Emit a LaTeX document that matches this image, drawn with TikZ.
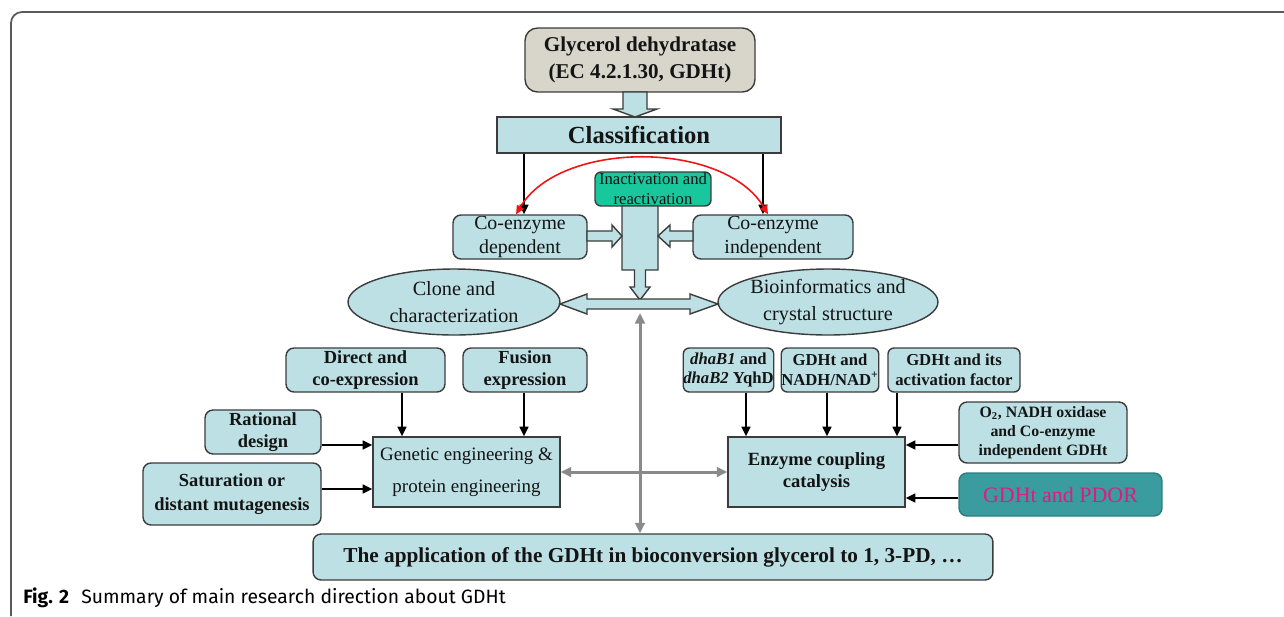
\documentclass[tikz,border=0pt]{standalone}
\usepackage{fontspec}
\setmainfont{Liberation Serif}
\newfontfamily\capfont{Fira Sans}
\usetikzlibrary{arrows.meta,calc,shapes.geometric}
\definecolor{lb}{HTML}{BCE0E4}
\definecolor{bdr}{HTML}{3C3C3C}
\definecolor{glycfill}{HTML}{D8D6CB}
\definecolor{greenbox}{HTML}{19C79C}
\definecolor{tealbox}{HTML}{3A9C9E}
\definecolor{magtext}{HTML}{E01A82}
\definecolor{redarc}{HTML}{F01414}
\definecolor{grayarr}{HTML}{8A8A8A}
\definecolor{framecol}{HTML}{5A5A5A}
\definecolor{txt}{HTML}{141414}
\newcommand\setfs[2]{\fontsize{#1}{#2}\selectfont}
\tikzset{
  box/.style={draw=bdr, fill=lb, line width=0.8pt, rounded corners=0.16cm, inner sep=0pt, align=center, text=txt},
  sqbox/.style={box, rounded corners=0pt},
  ell/.style={ellipse, draw=bdr, fill=lb, line width=0.8pt, inner sep=0pt, align=center, text=txt},
  blockarr/.style={draw=bdr, fill=lb, line width=0.8pt, line join=miter},
  blk/.style={draw=black, line width=1.2pt, -{Triangle[length=5.5pt,width=5pt]}},
  gry/.style={draw=grayarr, line width=1.7pt, {Triangle[length=6pt,width=5.5pt]}-{Triangle[length=6pt,width=5.5pt]}},
  rarc/.style={draw=redarc, line width=0.9pt, {Triangle[length=5pt,width=4.5pt]}-{Triangle[length=5pt,width=4.5pt]}},
}
\begin{document}
\begin{tikzpicture}[x=0.02cm,y=-0.02cm]
\useasboundingbox (0,0) rectangle (1284,616);
% frame
\draw[framecol, line width=1pt, rounded corners=0.22cm] (11,616) -- (11,12) -- (1284,12);

% nodes
\node[box, fill=glycfill, rounded corners=0.25cm, minimum width=4.6cm, minimum height=1.28cm, font=\bfseries\setfs{12}{15}] (glyc) at (640,60) {Glycerol dehydratase\\(EC 4.2.1.30, GDHt)};
\node[sqbox, minimum width=5.68cm, minimum height=0.72cm, font=\bfseries\setfs{14}{16}] (class) at (639,135) {Classification};
\node[box, fill=greenbox, rounded corners=0.12cm, minimum width=2.32cm, minimum height=0.68cm, font=\setfs{9.5}{11.5}] (inact) at (653,189) {Inactivation and\\reactivation};
\node[box, minimum width=2.68cm, minimum height=0.88cm, font=\setfs{11.3}{13.6}] (dep) at (520,237) {Co-enzyme\\dependent};
\node[box, minimum width=3.2cm, minimum height=0.88cm, font=\setfs{11.3}{13.6}] (indep) at (773,237) {Co-enzyme\\independent};
\node[ell, minimum width=4.24cm, minimum height=1.32cm, font=\setfs{11.5}{15}] (clone) at (454,302) {Clone and\\characterization};
\node[ell, minimum width=4.4cm, minimum height=1.32cm, font=\setfs{11.5}{15}] (bio) at (828,302) {Bioinformatics and\\crystal structure};

\node[box, minimum width=3.18cm, minimum height=0.88cm, font=\bfseries\setfs{10.5}{12.3}] (direct) at (365.5,370) {Direct and\\co-expression};
\node[box, minimum width=2.48cm, minimum height=0.88cm, font=\bfseries\setfs{10.5}{12.3}] (fusion) at (525,370) {Fusion\\expression};
\node[box, minimum width=2.32cm, minimum height=0.88cm, font=\bfseries\setfs{10.5}{12.3}] (rational) at (263,432) {Rational\\design};
\node[box, minimum width=3.56cm, minimum height=1.24cm, font=\bfseries\setfs{10.5}{13.5}] (satur) at (232,494) {Saturation or\\distant mutagenesis};
\node[sqbox, minimum width=3.74cm, minimum height=1.4cm, font=\setfs{10.8}{18.5}] (genetic) at (466.5,472) {Genetic engineering \&\\protein engineering};

\node[box, rounded corners=0.12cm, minimum width=1.74cm, minimum height=0.88cm, font=\bfseries\setfs{9.5}{11.3}] (dhab) at (728.5,370) {\textit{dhaB1} and\\\textit{dhaB2} YqhD};
\node[box, rounded corners=0.12cm, minimum width=1.92cm, minimum height=0.88cm, font=\bfseries\setfs{9.5}{11.3}] (nadh) at (830,370) {GDHt and\\NADH/NAD\textsuperscript{+}};
\node[box, rounded corners=0.12cm, minimum width=2.64cm, minimum height=0.88cm, font=\bfseries\setfs{9.5}{11.3}] (activ) at (954,370) {GDHt and its\\activation factor};
\node[box, minimum width=3.36cm, minimum height=1.22cm, font=\bfseries\setfs{9}{10.8}] (o2) at (1043,432.5) {O\textsubscript{2}, NADH oxidase\\and Co-enzyme\\independent GDHt};
\node[box, draw=tealbox!80!black, fill=tealbox, text=magtext, minimum width=4.06cm, minimum height=0.86cm, font=\setfs{12.5}{14}] (pdor) at (1060.5,494.5) {GDHt and PDOR};
\node[sqbox, minimum width=3.54cm, minimum height=1.4cm, font=\bfseries\setfs{10.6}{13}] (enzyme) at (816.5,472) {Enzyme coupling\\catalysis};

\node[box, minimum width=13.6cm, minimum height=0.92cm, font=\bfseries\setfs{12.1}{14}] (app) at (653,557) {The application of the GDHt in bioconversion glycerol to 1, 3-PD, \dots};

\node[anchor=base west, inner sep=0pt, font=\capfont\setfs{11}{13}] (cap) at (23,603) {\textbf{Fig. 2}\hspace{7pt}Summary of main research direction about GDHt};

% block arrows
\draw[blockarr] (623,92) -- (647,92) -- (647,109) -- (657,109) -- (635,117) -- (613,109) -- (623,109) -- cycle;
\draw[blockarr] (622,206) -- (658,206) -- (658,270) -- (645.5,270) -- (645.5,287) -- (650,287) -- (640,300) -- (630,287) -- (634.5,287) -- (634.5,270) -- (622,270) -- cycle;
\draw[blockarr] (587,231) -- (612,231) -- (612,225) -- (622,236) -- (612,247) -- (612,241) -- (587,241) -- cycle;
\draw[blockarr] (693,231) -- (670,231) -- (670,225) -- (658,236) -- (670,247) -- (670,241) -- (693,241) -- cycle;
\draw[blockarr] (560,304) -- (587,294) -- (587,299) -- (690,299) -- (690,294) -- (718,304) -- (690,314) -- (690,309) -- (587,309) -- (587,314) -- cycle;

% black arrows from classification
\draw[blk] ([xshift=0.08cm]dep.north |- class.south) -- ([xshift=0.08cm]dep.north);
\draw[blk] ([xshift=-0.2cm]indep.north |- class.south) -- ([xshift=-0.2cm]indep.north);
% red arc
\draw[rarc] ([xshift=-0.08cm]dep.north) .. controls (560,140) and (724,140) .. ([xshift=-0.1cm]indep.north);

% gray arrows
\coordinate (hv) at (640,313);
\draw[gry] (hv) -- (hv |- app.north);
\draw[gry] (genetic.east) -- (enzyme.west);

% left group arrows
\draw[blk] ([xshift=0.73cm]direct.south) -- ([xshift=0.73cm]direct.south |- genetic.north);
\draw[blk] ([xshift=-0.02cm]fusion.south) -- ([xshift=-0.02cm]fusion.south |- genetic.north);
\draw[blk] ([yshift=-0.26cm]rational.east) -- ([yshift=-0.26cm]rational.east -| genetic.west);
\draw[blk] ([yshift=0.1cm]satur.east) -- ([yshift=0.1cm]satur.east -| genetic.west);

% right group arrows
\draw[blk] ([xshift=0.35cm]dhab.south) -- ([xshift=0.35cm]dhab.south |- enzyme.north);
\draw[blk] ([xshift=-0.06cm]nadh.south) -- ([xshift=-0.06cm]nadh.south |- enzyme.north);
\draw[blk] ([xshift=-1.14cm]activ.south) -- ([xshift=-1.14cm]activ.south |- enzyme.north);
\draw[blk] ([yshift=-0.25cm]o2.west) -- ([yshift=-0.25cm]o2.west -| enzyme.east);
\draw[blk] ([yshift=-0.07cm]pdor.west) -- ([yshift=-0.07cm]pdor.west -| enzyme.east);
\end{tikzpicture}
\end{document}
